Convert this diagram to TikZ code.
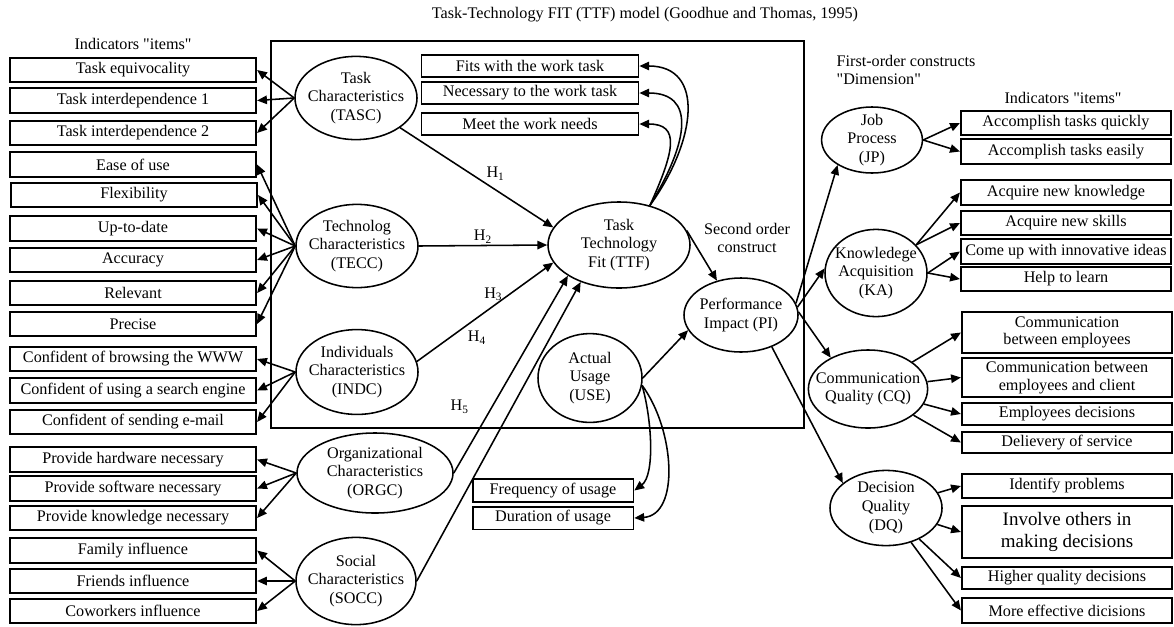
\documentclass[tikz,border=0pt]{standalone}
\usepackage{fontspec}
\setmainfont{Liberation Serif}
\usetikzlibrary{shapes.geometric,arrows.meta}

\begin{document}
\begin{tikzpicture}[
        x=0.025cm, y=-0.025cm,
        >={Triangle[length=7pt,width=6pt]},
        item/.style={rectangle, draw, line width=1.5pt, minimum width=6.15cm, minimum height=0.62cm, inner xsep=1pt, inner ysep=0pt, font=\fontsize{11.5}{12.6}\selectfont, align=center},
        ritem/.style={item, minimum width=5.25cm},
        titem/.style={item, line width=1.3pt, minimum width=5.42cm, minimum height=0.55cm},
        uitem/.style={item, line width=1.3pt, minimum width=4.02cm, minimum height=0.57cm},
        construct/.style={ellipse, draw, line width=1.1pt, inner sep=-1cm, align=center, font=\fontsize{11.5}{13.3}\selectfont},
        heading/.style={font=\fontsize{11.5}{13}\selectfont, align=center, inner sep=1pt},
        h_label/.style={font=\fontsize{11.5}{12}\selectfont, inner sep=1pt},
        link/.style={->, line width=1.1pt}
    ]
        \useasboundingbox (0,0) rectangle (1174,626);

        % headings
        \node[heading] (title) at (645,15) {Task-Technology FIT (TTF) model (Goodhue and Thomas, 1995)};
        \node[heading] (left_heading) at (133,44) {Indicators \textquotedbl items\textquotedbl};
        \node[heading] (right_heading) at (1063,98) {Indicators \textquotedbl items\textquotedbl};
        \node[heading, align=left, anchor=west] (dim_heading) at (835,70) {First-order constructs\\\textquotedbl Dimension\textquotedbl};
        \node[heading] (second_heading) at (747,238) {Second order\\construct};

        % frame round the TTF part
        \draw[line width=1.1pt] (271,41) rectangle (804,428);

        % Constructs
        \node[construct, minimum width=3.05cm, minimum height=2.08cm] (tasc) at (356,98) {Task\\Characteristics\\(TASC)};
        \node[construct, minimum width=3.05cm, minimum height=2.08cm] (tecc) at (357,246) {Technolog\\Characteristics\\(TECC)};
        \node[construct, minimum width=3.05cm, minimum height=2.12cm] (indc) at (357,372) {Individuals\\Characteristics\\(INDC)};
        \node[construct, minimum width=3.9cm, minimum height=2.0cm] (orgc) at (375,473) {Organizational\\Characteristics\\(ORGC)};
        \node[construct, minimum width=3.0cm, minimum height=2.18cm] (socc) at (356,581) {Social\\Characteristics\\(SOCC)};
        \node[construct, minimum width=3.55cm, minimum height=2.15cm] (ttf) at (619,245) {Task\\Technology\\Fit (TTF)};
        \node[construct, minimum width=2.85cm, minimum height=1.85cm] (pi) at (741,315) {Performance\\Impact (PI)};
        \node[construct, minimum width=2.6cm, minimum height=2.22cm] (use) at (590,378) {Actual\\Usage\\(USE)};
        \node[construct, minimum width=2.52cm, minimum height=1.65cm] (jp) at (872,140) {Job\\Process\\(JP)};
        \node[construct, minimum width=2.55cm, minimum height=2.18cm] (ka) at (876,273) {Knowledege\\Acquisition\\(KA)};
        \node[construct, minimum width=2.98cm, minimum height=1.95cm] (cq) at (868,389) {Communication\\Quality (CQ)};
        \node[construct, minimum width=2.8cm, minimum height=1.88cm] (dq) at (886,508) {Decision\\Quality\\(DQ)};

        % Left indicators
        \node[item] (tasc_item1) at (133,70) {Task equivocality};
        \node[item] (tasc_item2) at (133,100.5) {Task interdependence 1};
        \node[item] (tasc_item3) at (133,133) {Task interdependence 2};
        \node[item] (tecc_item1) at (133,164.5) {Ease of use};
        \node[item] (tecc_item2) at (134,195) {Flexibility};
        \node[item] (tecc_item3) at (133,228.5) {Up-to-date};
        \node[item] (tecc_item4) at (133,260) {Accuracy};
        \node[item] (tecc_item5) at (133,293) {Relevant};
        \node[item] (tecc_item6) at (133,324) {Precise};
        \node[item] (indc_item1) at (133,359) {Confident of browsing the WWW};
        \node[item] (indc_item2) at (133,390.5) {Confident of using a search engine};
        \node[item] (indc_item3) at (133,422) {Confident of sending e-mail};
        \node[item] (orgc_item1) at (133,459.5) {Provide hardware necessary};
        \node[item] (orgc_item2) at (133,488.5) {Provide software necessary};
        \node[item] (orgc_item3) at (133,518) {Provide knowledge necessary};
        \node[item] (socc_item1) at (133,550.5) {Family influence};
        \node[item] (socc_item2) at (133,581) {Friends influence};
        \node[item] (socc_item3) at (133,611) {Coworkers influence};

        % TTF and usage indicators
        \node[titem] (ttf_item1) at (530,66) {Fits with the work task};
        \node[titem] (ttf_item2) at (530,93) {Necessary to the work task};
        \node[titem] (ttf_item3) at (530,124) {Meet the work needs};
        \node[uitem] (use_item1) at (553,490.5) {Frequency of usage};
        \node[uitem] (use_item2) at (553,518) {Duration of usage};

        % Right indicators
        \node[ritem] (jp_item1) at (1066,123) {Accomplish tasks quickly};
        \node[ritem] (jp_item2) at (1066,151.5) {Accomplish tasks easily};
        \node[ritem] (ka_item1) at (1066,192.5) {Acquire new knowledge};
        \node[ritem] (ka_item2) at (1066,223) {Acquire new skills};
        \node[ritem] (ka_item3) at (1066,251.5) {Come up with innovative ideas};
        \node[ritem] (ka_item4) at (1066,279) {Help to learn};
        \node[ritem, minimum height=1.03cm] (cq_item1) at (1067,332.5) {Communication\\between employees};
        \node[ritem, minimum height=0.98cm] (cq_item2) at (1067,377.5) {Communication between\\employees and client};
        \node[ritem, minimum height=0.55cm] (cq_item3) at (1067,414) {Employees decisions};
        \node[ritem, minimum height=0.53cm] (cq_item4) at (1067,442.5) {Delievery of service};
        \node[ritem] (dq_item1) at (1067,486) {Identify problems};
        \node[ritem, minimum height=1.3cm, font=\fontsize{13.5}{15.5}\selectfont] (dq_item2) at (1067,532) {Involve others in\\making decisions};
        \node[ritem, minimum height=0.55cm] (dq_item3) at (1067,578) {Higher quality decisions};
        \node[ritem] (dq_item4) at (1067,610.5) {More effective dicisions};

        % Constructs to their left indicators
        \draw[link] (tasc.west) -- (tasc_item1.east);
        \draw[link] (tasc.west) -- (tasc_item2.east);
        \draw[link] (tasc.west) -- (tasc_item3.east);
        \draw[link] (tecc.west) -- (tecc_item1.east);
        \draw[link] (tecc.west) -- (tecc_item2.east);
        \draw[link] (tecc.west) -- (tecc_item3.east);
        \draw[link] (tecc.west) -- (tecc_item4.east);
        \draw[link] (tecc.west) -- (tecc_item5.east);
        \draw[link] (tecc.west) -- (tecc_item6.east);
        \draw[link] (indc.west) -- (indc_item1.east);
        \draw[link] (indc.west) -- (indc_item2.east);
        \draw[link] (indc.west) -- (indc_item3.east);
        \draw[link] (orgc.west) -- (orgc_item1.east);
        \draw[link] (orgc.west) -- (orgc_item2.east);
        \draw[link] (orgc.west) -- (orgc_item3.east);
        \draw[link] (socc.west) -- (socc_item1.east);
        \draw[link] (socc.west) -- (socc_item2.east);
        \draw[link] (socc.west) -- (socc_item3.east);

        % Hypotheses into TTF
        \draw[link] (tasc.326) -- (ttf.165) node[h_label, pos=0.55, above right] (h1_label) {H\textsubscript{1}};
        \draw[link] (tecc.east) -- (ttf.west) node[h_label, midway, above] (h2_label) {H\textsubscript{2}};
        \draw[link] (indc.10) -- (ttf.195) node[h_label, pos=0.56, above=2pt] (h3_label) {H\textsubscript{3}} node[h_label, pos=0.44, below=8pt] (h4_label) {H\textsubscript{4}};
        \draw[link] (orgc.east) -- (ttf.211) node[h_label, pos=0.335, left=15pt] (h5_label) {H\textsubscript{5}};
        \draw[link] (socc.east) -- (ttf.224);

        % TTF to its indicators
        \draw[link] (ttf.52) .. controls (697,140) and (705,66) .. (ttf_item1.east);
        \draw[link] (ttf.52) .. controls (690,140) and (695,93) .. (ttf_item2.east);
        \draw[link] (ttf.52) .. controls (675,150) and (680,124) .. (ttf_item3.east);

        % Usage
        \draw[link] (use.-8) .. controls (652,420) and (655,475) .. (use_item1.east);
        \draw[link] (use.-8) .. controls (675,430) and (680,515) .. (use_item2.east);
        \draw[link] (ttf.12) -- (pi.125);
        \draw[link] (use.east) -- (pi.196);

        % Performance impact to first-order constructs
        \draw[link] (pi.12) -- (jp.216);
        \draw[link] (pi.8) -- (ka.175);
        \draw[link] (pi.3) -- (cq.140);
        \draw[link] (pi.314) -- (dq.150);

        % First-order constructs to their indicators
        \draw[link] (jp.east) -- (jp_item1.west);
        \draw[link] (jp.east) -- (jp_item2.west);
        \draw[link] (ka.35) -- (ka_item1.west);
        \draw[link] (ka.35) -- (ka_item2.west);
        \draw[link] (ka.0) -- (ka_item3.west);
        \draw[link] (ka.0) -- (ka_item4.west);
        \draw[link] (cq) -- (cq_item1.west);
        \draw[link] (cq) -- (cq_item2.west);
        \draw[link] (cq) -- (cq_item3.west);
        \draw[link] (cq) -- (cq_item4.west);
        \draw[link] (dq) -- (dq_item1.west);
        \draw[link] (dq) -- (dq_item2.west);
        \draw[link] (dq) -- (dq_item3.west);
        \draw[link] (dq) -- (dq_item4.west);

    \end{tikzpicture}
\end{document}
